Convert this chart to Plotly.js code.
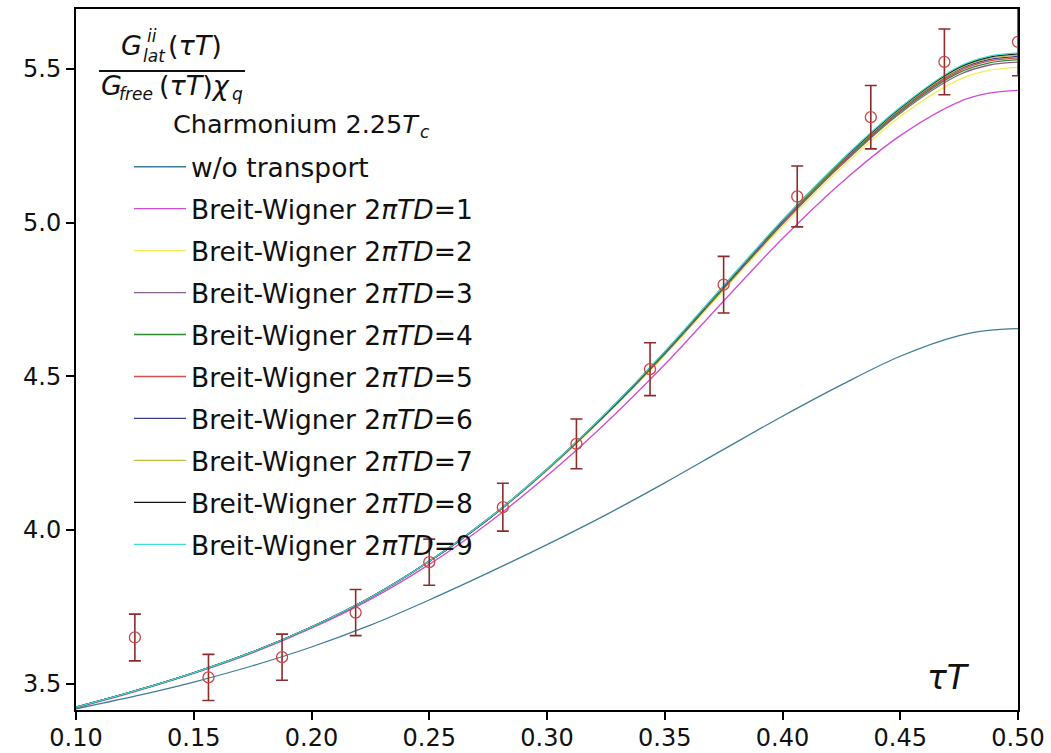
<!DOCTYPE html>
<html>
<head>
<meta charset="utf-8">
<script src="https://cdn.plot.ly/plotly-3.0.1.min.js"></script>
<style>
  html, body { margin: 0; padding: 0; background: #ffffff; }
  #chart { width: 1051px; height: 753px; }
</style>
</head>
<body>
<div id="chart"></div>
<script>
// Euclidean time grid for the model correlators
const tauGrid = [0.100, 0.125, 0.150, 0.175, 0.200, 0.225, 0.250, 0.275, 0.300,
                 0.325, 0.350, 0.375, 0.400, 0.425, 0.450, 0.475, 0.4875, 0.500];

// Model curves: ratio G/(G_free chi_q)
const noTransport = [3.418, 3.459, 3.505, 3.558, 3.619, 3.690, 3.772, 3.860, 3.952,
                     4.049, 4.153, 4.262, 4.370, 4.472, 4.565, 4.632, 4.649, 4.655];
const bw1 = [3.421, 3.474, 3.533, 3.600, 3.680, 3.774, 3.888, 4.022, 4.176,
             4.348, 4.538, 4.745, 4.948, 5.130, 5.283, 5.393, 5.421, 5.430];
const bw2 = [3.423, 3.476, 3.535, 3.603, 3.684, 3.780, 3.897, 4.033, 4.193,
             4.372, 4.568, 4.779, 4.988, 5.178, 5.345, 5.465, 5.495, 5.505];
const bw3 = [3.423, 3.476, 3.535, 3.603, 3.684, 3.780, 3.897, 4.034, 4.195,
             4.375, 4.572, 4.785, 4.995, 5.187, 5.356, 5.481, 5.512, 5.522];
const bw4 = [3.423, 3.476, 3.535, 3.603, 3.684, 3.780, 3.898, 4.035, 4.196,
             4.376, 4.574, 4.787, 4.999, 5.191, 5.361, 5.488, 5.519, 5.530];
const bw5 = [3.423, 3.476, 3.535, 3.603, 3.684, 3.780, 3.898, 4.035, 4.196,
             4.377, 4.576, 4.790, 5.001, 5.194, 5.365, 5.493, 5.525, 5.536];
const bw6 = [3.423, 3.476, 3.535, 3.603, 3.684, 3.780, 3.898, 4.035, 4.197,
             4.378, 4.577, 4.791, 5.003, 5.197, 5.368, 5.498, 5.530, 5.541];
const bw7 = [3.423, 3.476, 3.535, 3.603, 3.684, 3.780, 3.898, 4.036, 4.197,
             4.379, 4.578, 4.793, 5.005, 5.199, 5.370, 5.501, 5.534, 5.545];
const bw8 = [3.423, 3.476, 3.535, 3.603, 3.684, 3.780, 3.898, 4.036, 4.198,
             4.379, 4.579, 4.794, 5.007, 5.201, 5.373, 5.505, 5.538, 5.549];
const bw9 = [3.423, 3.476, 3.535, 3.603, 3.684, 3.780, 3.898, 4.036, 4.198,
             4.380, 4.580, 4.795, 5.008, 5.203, 5.375, 5.508, 5.541, 5.552];

// Lattice data (N_tau = 32) with statistical errors
const tauLat = [0.125, 0.15625, 0.1875, 0.21875, 0.25, 0.28125, 0.3125,
                0.34375, 0.375, 0.40625, 0.4375, 0.46875, 0.5];
const ratioLat = [3.650, 3.520, 3.586, 3.731, 3.895, 4.074, 4.280,
                  4.523, 4.798, 5.085, 5.343, 5.523, 5.588];
const errLat = [0.076, 0.075, 0.075, 0.075, 0.075, 0.078, 0.081,
                0.086, 0.092, 0.099, 0.103, 0.107, 0.110];

// Legend labels and line colours
const curveNames = [
  'w/o transport',
  'Breit-Wigner 2<i>πTD</i>=1', 'Breit-Wigner 2<i>πTD</i>=2', 'Breit-Wigner 2<i>πTD</i>=3',
  'Breit-Wigner 2<i>πTD</i>=4', 'Breit-Wigner 2<i>πTD</i>=5', 'Breit-Wigner 2<i>πTD</i>=6',
  'Breit-Wigner 2<i>πTD</i>=7', 'Breit-Wigner 2<i>πTD</i>=8', 'Breit-Wigner 2<i>πTD</i>=9'
];
const curveColors = ['#3f7c99', '#d24bd2', '#f2ee55', '#86608a', '#2f8a2f',
                     '#d05050', '#3a3a8c', '#c9bf3c', '#111111', '#3fe0dc'];
const curveValues = [noTransport, bw1, bw2, bw3, bw4, bw5, bw6, bw7, bw8, bw9];

const FONT = 'DejaVu Sans, Liberation Sans, sans-serif';

const traces = curveValues.map((vals, i) => ({
  type: 'scatter',
  mode: 'lines',
  x: tauGrid,
  y: vals,
  name: curveNames[i],
  legendgroup: 'g' + i,
  line: { color: curveColors[i], width: 1.3, shape: 'spline', smoothing: 1 }
}));

traces.push({
  type: 'scatter',
  mode: 'markers',
  x: tauLat,
  y: ratioLat,
  showlegend: false,
  marker: { symbol: 'circle-open', size: 11, color: '#cc4444', line: { width: 1.3 } },
  error_y: { type: 'data', array: errLat, visible: true, color: '#8e2b2b', thickness: 1.6, width: 6 }
});

// pixel -> paper helpers for the plot area (76..1018 x 9..710)
const L = 76, R = 1018, T = 9, B = 710;
const px = v => (v - L) / (R - L);
const py = v => (B - v) / (B - T);

const annotations = [
  { text: '<i>G</i>', x: px(119), y: py(46), xanchor: 'left', yanchor: 'middle',
    font: { family: FONT, size: 27, color: '#111' } },
  { text: '<i>ii</i>', x: px(145), y: py(36), xanchor: 'left', yanchor: 'middle',
    font: { family: FONT, size: 17, color: '#111' } },
  { text: '<i>lat</i>', x: px(141), y: py(56), xanchor: 'left', yanchor: 'middle',
    font: { family: FONT, size: 17, color: '#111' } },
  { text: '(<i>τT</i>)', x: px(166), y: py(46), xanchor: 'left', yanchor: 'middle',
    font: { family: FONT, size: 27, color: '#111' } },
  { text: '<i>G</i>', x: px(99), y: py(86), xanchor: 'left', yanchor: 'middle',
    font: { family: FONT, size: 27, color: '#111' } },
  { text: '<i>free</i>', x: px(117), y: py(94), xanchor: 'left', yanchor: 'middle',
    font: { family: FONT, size: 17, color: '#111' } },
  { text: '(<i>τT</i>)<i>χ</i>', x: px(157), y: py(86), xanchor: 'left', yanchor: 'middle',
    font: { family: FONT, size: 27, color: '#111' } },
  { text: '<i>q</i>', x: px(230), y: py(94), xanchor: 'left', yanchor: 'middle',
    font: { family: FONT, size: 17, color: '#111' } },
  { text: 'Charmonium 2.25<i>T</i>', x: px(171), y: py(124), xanchor: 'left', yanchor: 'middle',
    font: { family: FONT, size: 25.5, color: '#111' } },
  { text: '<i>c</i>', x: px(418), y: py(132), xanchor: 'left', yanchor: 'middle',
    font: { family: FONT, size: 17, color: '#111' } },
  { text: '<i>τT</i>', x: px(948), y: py(677), xanchor: 'center', yanchor: 'middle',
    font: { family: FONT, size: 33, color: '#111' } }
].map(a => Object.assign({ xref: 'paper', yref: 'paper', showarrow: false }, a));

const layout = {
  width: 1051,
  height: 753,
  margin: { l: L, r: 1051 - R, t: T, b: 753 - B, pad: 0 },
  paper_bgcolor: '#ffffff',
  plot_bgcolor: '#ffffff',
  font: { family: FONT, size: 24, color: '#111' },
  showlegend: true,
  legend: {
    x: px(129), y: py(143), xanchor: 'left', yanchor: 'top',
    bgcolor: 'rgba(255,255,255,0)', borderwidth: 0,
    traceorder: 'grouped', tracegroupgap: 4.5, itemwidth: 52,
    font: { family: FONT, size: 26.5, color: '#111' }
  },
  xaxis: {
    range: [0.1, 0.5], tick0: 0.1, dtick: 0.05, tickformat: '.2f',
    showgrid: false, zeroline: false,
    showline: true, linecolor: '#000', linewidth: 2, mirror: true,
    ticks: 'outside', ticklen: 8, tickwidth: 2, tickcolor: '#000',
    ticklabelstandoff: -3,
    tickfont: { family: FONT, size: 24, color: '#111' }
  },
  yaxis: {
    range: [3.414, 5.695], tick0: 3.5, dtick: 0.5, tickformat: '.1f',
    showgrid: false, zeroline: false,
    showline: true, linecolor: '#000', linewidth: 2, mirror: true,
    ticks: 'outside', ticklen: 8, tickwidth: 2, tickcolor: '#000',
    tickfont: { family: FONT, size: 24, color: '#111' }
  },
  shapes: [
    { type: 'line', xref: 'paper', yref: 'paper', x0: px(99), x1: px(245), y0: py(71), y1: py(71),
      line: { color: '#111', width: 2 } }
  ],
  annotations: annotations
};

Plotly.newPlot('chart', traces, layout, { displayModeBar: false, staticPlot: true });
</script>
</body>
</html>
